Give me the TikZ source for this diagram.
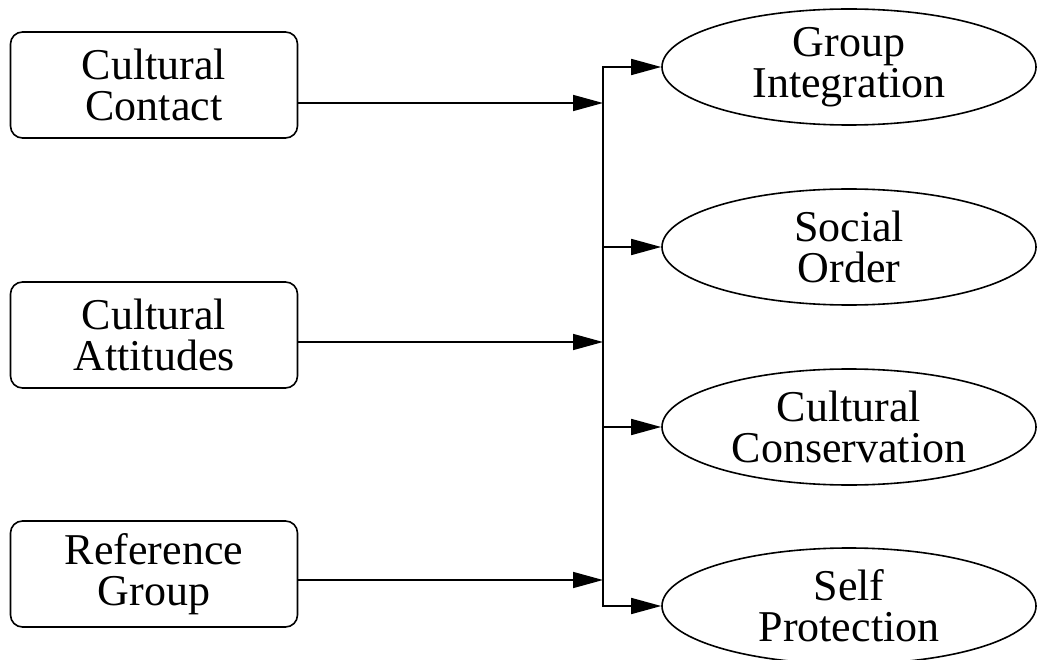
\documentclass[tikz,border=0pt]{standalone}
\usepackage{fontspec}
\setmainfont{Liberation Serif}
\usetikzlibrary{arrows.meta,shapes.geometric,positioning}

\tikzset{
  bigtext/.style={font=\fontsize{44pt}{41pt}\selectfont, align=center},
  cause/.style={draw, bigtext, rounded corners=12pt, minimum width=287pt, minimum height=106pt, line width=1.6pt},
  effect/.style={draw, bigtext, ellipse, inner sep=0pt, minimum width=374pt, minimum height=116pt, line width=1.6pt},
  link/.style={->, line width=1.6pt}
}

\begin{document}
\begin{tikzpicture}[x=1pt,y=-1pt,>={Triangle[length=30pt,width=16pt]}]
\useasboundingbox (0,0) rectangle (1038,660);

% causes
\node[cause] (contact) at (154,85) {Cultural\\Contact};
\node[cause] (attitudes) at (154,335) {Cultural\\Attitudes};
\node[cause] (refgroup) at (154,574) {Reference\\Group};

% effects
\node[effect] (integration) at (849,67) {Group\\Integration};
\node[effect] (order) at (849,247) {Social\\Order};
\node[effect] (conservation) at (849,427) {Cultural\\Conservation};
\node[effect] (protection) at (849,606) {Self\\Protection};

% bus
\coordinate (bus top) at (603,67);
\coordinate (bus bottom) at (603,606);
\coordinate (contact out) at ([yshift=-18pt]contact.east);
\coordinate (attitudes out) at ([yshift=-7pt]attitudes.east);
\coordinate (refgroup out) at ([yshift=-6pt]refgroup.east);

\foreach \src in {contact,attitudes,refgroup}
  \draw[link] (\src\space out) -- (\src\space out -| bus top);

\draw[link] (bus bottom) -- (bus top) -- (integration.west);
\draw[link] (bus top) -- (bus bottom) -- (protection.west);
\draw[link] (order.west -| bus top) -- (order.west);
\draw[link] (conservation.west -| bus top) -- (conservation.west);

\end{tikzpicture}
\end{document}
